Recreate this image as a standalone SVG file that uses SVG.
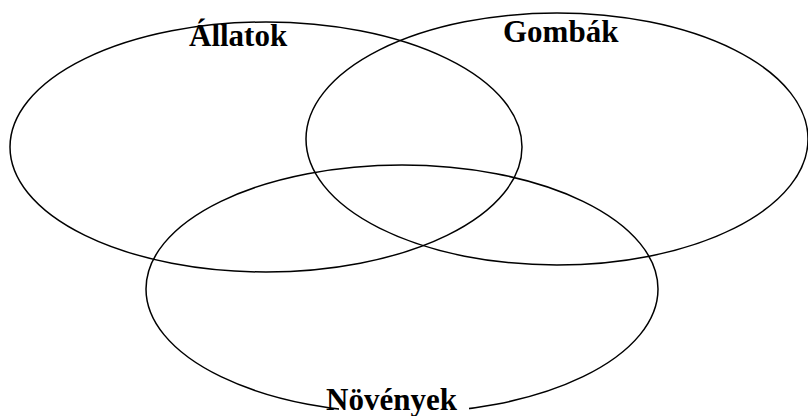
<svg xmlns="http://www.w3.org/2000/svg" width="808" height="416" viewBox="0 0 808 416">
<style>
.c{fill:none;stroke:#000;stroke-width:1.5}
.t{font-family:"Liberation Serif","Times New Roman",serif;font-weight:bold;font-size:31px;fill:#000}
</style>
<rect width="808" height="416" fill="#fff"/>
<g id="allatok"><ellipse class="c" cx="266" cy="147" rx="256" ry="125"/><text class="t" x="189" y="46">Állatok</text></g>
<g id="gombak"><ellipse class="c" cx="557" cy="139" rx="251" ry="126"/><text class="t" x="503" y="42">Gombák</text></g>
<g id="novenyek"><ellipse class="c" cx="402" cy="289" rx="256" ry="124"/><rect x="339" y="384" width="130" height="32" fill="#fff"/><text class="t" x="326" y="410">Növények</text></g>
<g id="connectors"/>
</svg>
